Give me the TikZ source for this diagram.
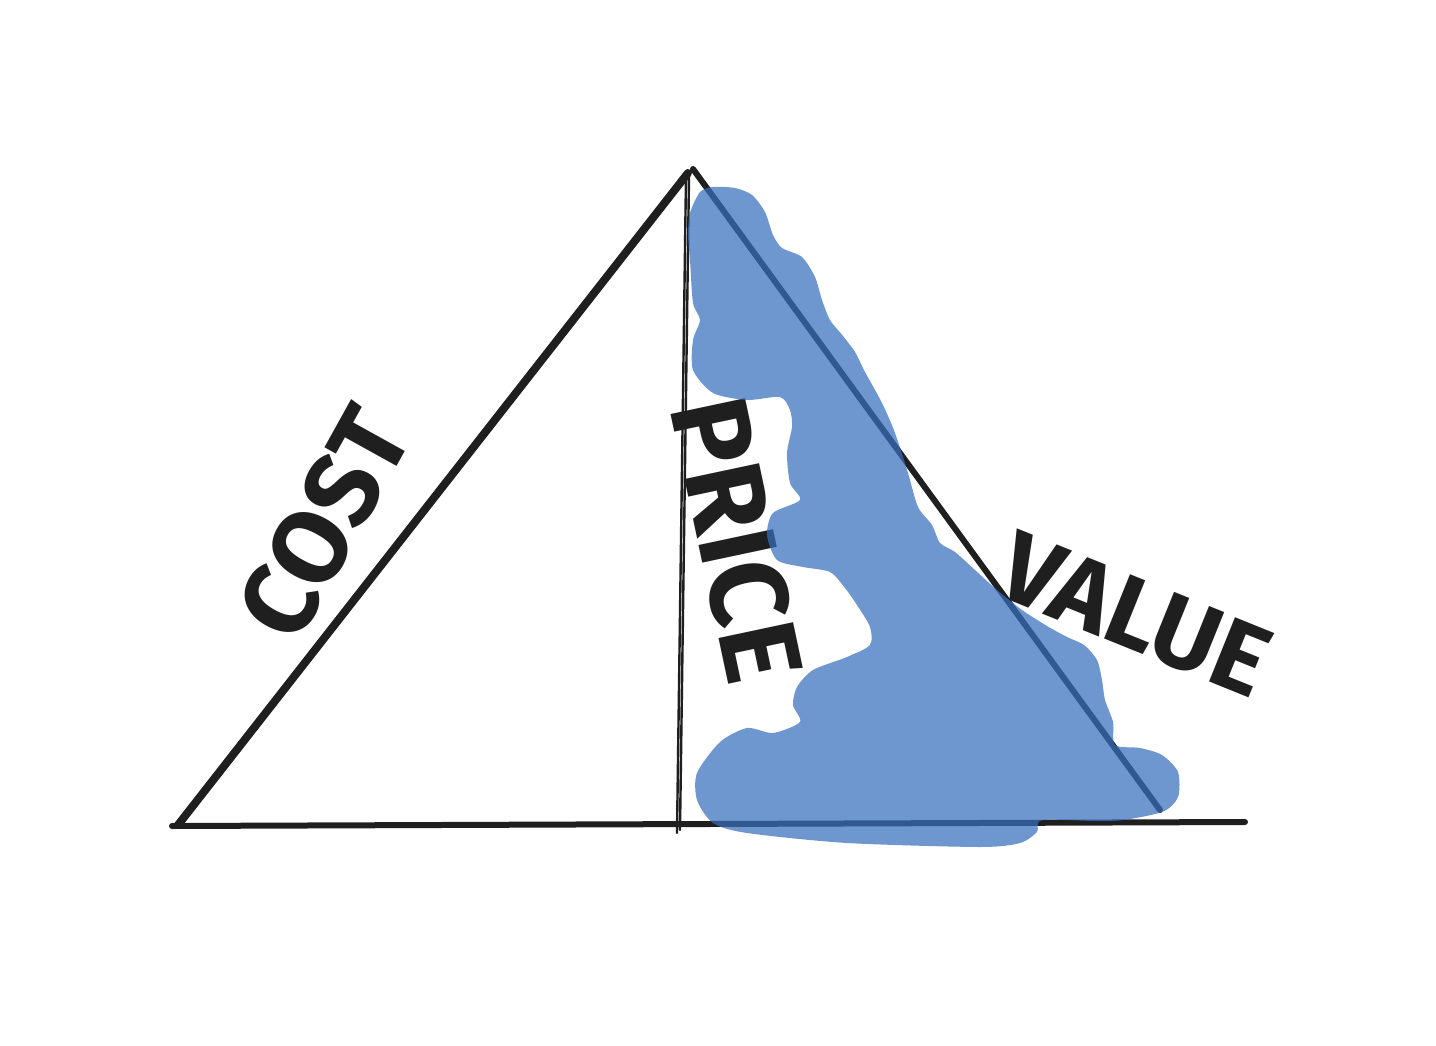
\documentclass[tikz,border=0pt]{standalone}
\usepackage{fontspec}
\setmainfont{Fira Sans}
\definecolor{ink}{HTML}{1F1F1F}
\definecolor{blobc}{RGB}{56,111,189}
\begin{document}
\begin{tikzpicture}[x=1pt,y=-1pt,
  edge/.style={draw=ink,line cap=round,line join=round},
  label/.style={text=ink,inner sep=0pt,font=\bfseries\fontsize{104pt}{104pt}\selectfont},
  blob/.style={fill=blobc,fill opacity=0.72,draw=none}]
\useasboundingbox[fill=white] (0,0) rectangle (1436,1046);
% triangle
\coordinate (bl) at (178,825);
\coordinate (apexL) at (688,173);
\coordinate (apexR) at (693,169);
\coordinate (br) at (1160,810);
\coordinate (b0) at (172,826);
\coordinate (b1) at (1245,822);
\coordinate (v1t) at (686,176);
\coordinate (v1b) at (677,833);
\coordinate (v2t) at (689,176);
\coordinate (v2b) at (680,830);
\draw[edge,line width=8pt] (bl) -- (apexL);
\draw[edge,line width=6pt] (apexR) -- (br);
\draw[edge,line width=6pt] (b0) -- (b1);
\draw[edge,line width=2.4pt] (v1t) -- (v1b);
\draw[edge,line width=2.4pt] (v2t) -- (v2b);
% labels
\node[label,rotate=61] (cost) at (324,523) {COST};
\node[label,rotate=-78,font=\bfseries\fontsize{110pt}{110pt}\selectfont] (price) at (737,540) {PRICE};
\node[label,rotate=-22,font=\bfseries\fontsize{100pt}{100pt}\selectfont] (value) at (1135,615) {VALUE};
% blue scribble
\path[blob] plot[smooth cycle,tension=0.45] coordinates {
 (690,213) (700,192) (713,187) (735,188) (752,195) (765,212) (773,235)
 (782,248) (802,257) (815,277) (822,300) (830,320) (843,336) (855,352)
 (865,372) (882,403) (895,433) (908,473) (918,507) (932,525) (940,543)
 (955,552) (975,570) (997,590) (1022,610) (1047,626) (1067,637) (1084,645)
 (1097,660) (1102,680) (1105,700) (1113,722) (1115,745) (1140,748)
 (1162,755) (1178,772) (1178,797) (1162,812) (1113,821) (1043,820)
 (1037,832) (1020,843) (980,847) (847,843) (747,833) (713,823) (697,800)
 (697,773) (720,742) (747,728) (773,733) (800,722) (793,705) (797,687)
 (813,670) (847,657) (870,645) (870,627) (857,605) (845,588) (830,572)
 (803,567) (777,560) (767,535) (773,513) (800,500) (790,483) (787,453)
 (792,427) (790,410) (780,397) (747,400) (713,393) (693,370) (693,340)
 (700,320) (693,303) (690,260) (688,235)};
\end{tikzpicture}
\end{document}
